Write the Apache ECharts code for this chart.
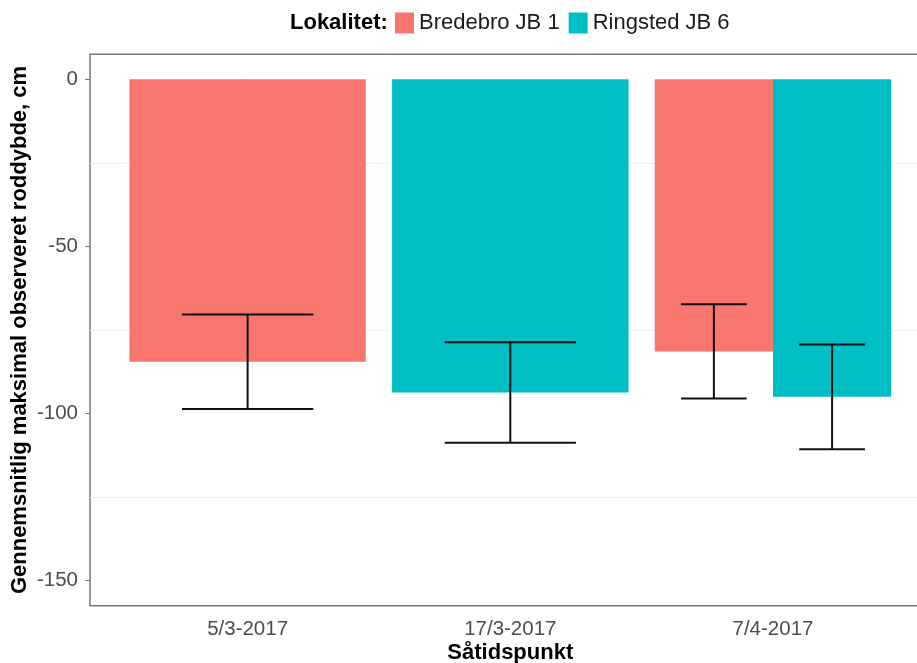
<!DOCTYPE html>
<html>
<head>
<meta charset="utf-8">
<script src="https://cdn.jsdelivr.net/npm/echarts@6/dist/echarts.min.js"></script>
<style>
  html, body { margin: 0; padding: 0; background: #ffffff; }
  #chart { width: 917px; height: 663px; }
</style>
</head>
<body>
<div id="chart"></div>
<script>
// Sowing dates (x categories)
const categories = ['5/3-2017', '17/3-2017', '7/4-2017'];

// Mean maximum observed root depth (cm, negative = below surface) and standard error
const bredebroMean = [-84.5, null, -81.4];
const bredebroSE = [14.1, null, 14.1];
const ringstedMean = [null, -93.7, -95.0];
const ringstedSE = [null, 15.0, 15.7];

// Axis ticks
const yTicks = [0, -50, -100, -150];
const yGridLines = [-25, -75, -125];

const seriesNames = ['Bredebro JB 1', 'Ringsted JB 6'];
const seriesColors = ['#F8766D', '#00BFC4'];
const means = [bredebroMean, ringstedMean];
const errors = [bredebroSE, ringstedSE];

const FONT = 'Liberation Sans, Arial, sans-serif';

// Dodge layout: which slot each series takes within a category
function buildRows(k) {
  const rows = [];
  categories.forEach((c, i) => {
    if (means[k][i] == null) return;
    const present = means.map(m => m[i] != null);
    const n = present.filter(Boolean).length;
    const slot = present.slice(0, k).filter(Boolean).length;
    rows.push([i + 1, means[k][i], means[k][i] - errors[k][i], means[k][i] + errors[k][i], slot, n]);
  });
  return rows;
}

function slotGeometry(api) {
  const band = api.size([1, 0])[0];
  const center = api.coord([api.value(0), 0])[0];
  const total = band * 0.9;
  const w = total / api.value(5);
  const x0 = center - total / 2 + api.value(4) * w;
  return { band, x0, w };
}

function renderBar(color) {
  return function (params, api) {
    const g = slotGeometry(api);
    const y0 = api.coord([api.value(0), 0])[1];
    const y1 = api.coord([api.value(0), api.value(1)])[1];
    return {
      type: 'rect',
      shape: { x: g.x0, y: y0, width: g.w, height: y1 - y0 },
      style: { fill: color }
    };
  };
}

function renderErrorBar(params, api) {
  const g = slotGeometry(api);
  const cx = g.x0 + g.w / 2;
  const half = (g.band * 0.5 / api.value(5)) / 2;
  const yLo = api.coord([api.value(0), api.value(2)])[1];
  const yHi = api.coord([api.value(0), api.value(3)])[1];
  const st = { stroke: '#111111', lineWidth: 2 };
  return {
    type: 'group',
    children: [
      { type: 'line', shape: { x1: cx, y1: yLo, x2: cx, y2: yHi }, style: st },
      { type: 'line', shape: { x1: cx - half, y1: yLo, x2: cx + half, y2: yLo }, style: st },
      { type: 'line', shape: { x1: cx - half, y1: yHi, x2: cx + half, y2: yHi }, style: st }
    ]
  };
}

const series = [];
seriesNames.forEach((name, k) => {
  series.push({
    name: name,
    type: 'custom',
    xAxisIndex: 0,
    yAxisIndex: 0,
    itemStyle: { color: seriesColors[k] },
    renderItem: renderBar(seriesColors[k]),
    encode: { x: 0, y: [1, 2, 3] },
    data: buildRows(k),
    z: 2
  });
});
seriesNames.forEach((name, k) => {
  series.push({
    type: 'custom',
    xAxisIndex: 0,
    yAxisIndex: 0,
    renderItem: renderErrorBar,
    encode: { x: 0, y: [1, 2, 3] },
    data: buildRows(k),
    z: 5
  });
});

const chart = echarts.init(document.getElementById('chart'), null, { renderer: 'canvas' });
chart.setOption({
  animation: false,
  backgroundColor: '#ffffff',
  textStyle: { fontFamily: FONT },
  title: {
    text: 'Lokalitet:',
    left: 290,
    top: 11,
    padding: 0,
    textStyle: { fontFamily: FONT, fontSize: 22, fontWeight: 'bold', color: '#000000', lineHeight: 23 }
  },
  legend: {
    data: seriesNames,
    left: 395,
    top: 12,
    padding: 0,
    icon: 'rect',
    itemWidth: 19,
    itemHeight: 21,
    itemGap: 9,
    textStyle: { fontFamily: FONT, fontSize: 22, color: '#1a1a1a', padding: [0, 0, 0, 0], lineHeight: 22 },
    selectedMode: false
  },
  grid: {
    left: 90,
    top: 54.2,
    width: 840.6,
    height: 551.6,
    containLabel: false,
    outerBoundsMode: 'none',
    show: true,
    borderColor: '#777777',
    borderWidth: 1.5,
    backgroundColor: 'transparent'
  },
  xAxis: {
    type: 'value',
    min: 0.4,
    max: 3.6,
    name: 'Såtidspunkt',
    nameLocation: 'middle',
    nameGap: 36,
    nameMoveOverlap: false,
    nameTextStyle: { fontFamily: FONT, fontSize: 22, fontWeight: 'bold', color: '#000000' },
    axisLine: { show: false },
    splitLine: { show: false },
    axisTick: {
      show: true,
      customValues: [1, 2, 3],
      length: 5,
      lineStyle: { color: '#777777', width: 1 }
    },
    axisLabel: {
      customValues: [1, 2, 3],
      formatter: v => categories[Math.round(v) - 1],
      margin: 13,
      fontFamily: FONT,
      fontSize: 20.5,
      color: '#4d4d4d'
    }
  },
  yAxis: [
    {
      type: 'value',
      min: -157.5,
      max: 7.5,
      position: 'left',
      name: 'Gennemsnitlig maksimal observeret roddybde, cm',
      nameLocation: 'middle',
      nameGap: 59,
      nameMoveOverlap: false,
      nameTextStyle: { fontFamily: FONT, fontSize: 22, fontWeight: 'bold', color: '#000000' },
      axisLine: { show: false },
      splitLine: { show: false },
      axisTick: {
        show: true,
        customValues: yTicks,
        length: 5,
        lineStyle: { color: '#777777', width: 1 }
      },
      axisLabel: {
        customValues: yTicks,
        margin: 12,
        fontFamily: FONT,
        fontSize: 20.5,
        color: '#4d4d4d'
      }
    },
    {
      type: 'value',
      min: -157.5,
      max: 7.5,
      position: 'left',
      axisLine: { show: false },
      axisLabel: { show: false },
      axisTick: { show: false, customValues: yGridLines },
      splitLine: { show: true, lineStyle: { color: '#eeeeee', width: 1 } }
    }
  ],
  series: series
});
</script>
</body>
</html>
